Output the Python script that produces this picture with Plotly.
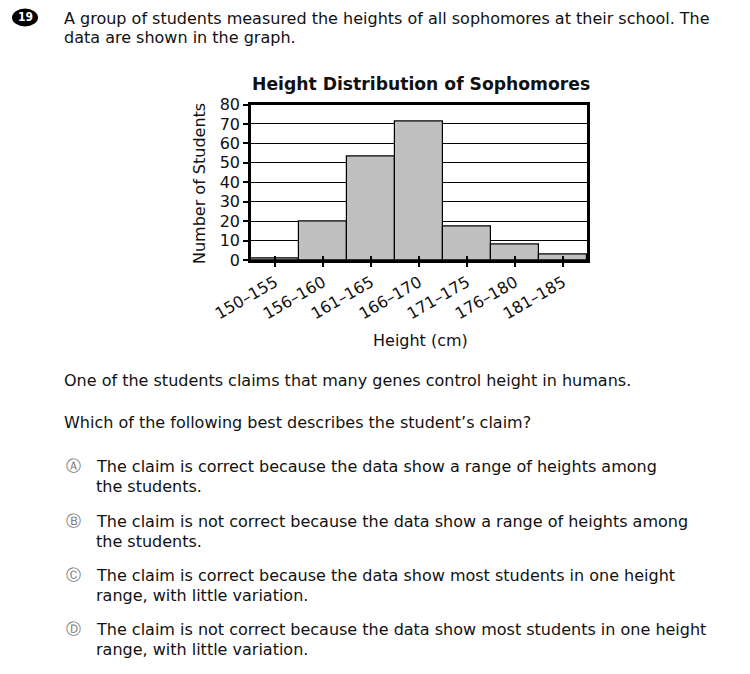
import plotly.graph_objects as go

categories = ["150–155", "156–160", "161–165", "166–170", "171–175", "176–180", "181–185"]
counts = [1, 20, 53, 71, 17, 8, 3]
y_ticks = [0, 10, 20, 30, 40, 50, 60, 70, 80]

W, H = 750, 674
def px(x):
    return x / W
def py(y):
    return 1 - y / H

CH = "DejaVu Sans"
TX = "DejaVu Sans"

fig = go.Figure()
fig.add_trace(go.Bar(
    x=categories, y=counts,
    marker=dict(color="#c0c0c0", line=dict(color="black", width=1.2)),
    showlegend=False, hoverinfo="skip",
))
fig.add_trace(go.Scatter(x=categories, y=counts, xaxis="x2", yaxis="y",
                         mode="markers", marker=dict(opacity=0), showlegend=False,
                         hoverinfo="skip"))

fig.update_layout(
    width=W, height=H,
    margin=dict(l=0, r=0, t=0, b=0, autoexpand=False),
    paper_bgcolor="white", plot_bgcolor="white",
    bargap=0,
    font=dict(family=CH, color="black"),
    xaxis=dict(
        type="category", categoryarray=categories, range=[-0.5, 6.5],
        domain=[px(251), px(587)], automargin=False,
        tickangle=-30, tickfont=dict(size=16, family=CH, color="#111"),
        ticks="outside", ticklen=4, tickwidth=2, tickcolor="black",
        showline=True, linewidth=3, linecolor="black", mirror=True,
        showgrid=False, anchor="y",
    ),
    xaxis2=dict(
        type="category", categoryarray=categories, range=[-0.5, 6.5],
        domain=[px(251), px(587)], overlaying="x", anchor="y", automargin=False,
        ticks="inside", ticklen=4, tickwidth=2, tickcolor="black",
        showticklabels=False, showgrid=False, showline=False,
    ),
    yaxis=dict(
        range=[0, 80], tickvals=y_ticks, automargin=False,
        domain=[py(260), py(104.5)],
        tickfont=dict(size=16, family=CH, color="#111"),
        ticks="outside", ticklen=5, tickwidth=1.5, tickcolor="black",
        showgrid=True, gridcolor="black", gridwidth=1,
        showline=True, linewidth=2.5, linecolor="black", mirror=True,
        zeroline=False,
    ),
)

ann = []
ann.append(dict(text="<b>Height Distribution of Sophomores</b>", x=px(421), y=py(84),
                xanchor="center", yanchor="middle", font=dict(size=17.2, family=CH, color="#111")))
ann.append(dict(text="Height (cm)", x=px(420), y=py(340), xanchor="center", yanchor="middle",
                font=dict(size=16, family=CH, color="#111")))
ann.append(dict(text="Number of Students", x=px(199), y=py(183), xanchor="center", yanchor="middle",
                textangle=-90, font=dict(size=16, family=CH, color="#111")))

def text(t, x, y, size=16):
    ann.append(dict(text=t, x=px(x), y=py(y), xanchor="left", yanchor="middle",
                    font=dict(size=size, family=TX, color="#111")))

text("A group of students measured the heights of all sophomores at their school. The", 62, 18)
text("data are shown in the graph.", 62, 38)
text("One of the students claims that many genes control height in humans.", 62, 380)
text("Which of the following best describes the student’s claim?", 62, 422)

options = [
    ("Ⓐ", "The claim is correct because the data show a range of heights among", "the students.", 466),
    ("Ⓑ", "The claim is not correct because the data show a range of heights among", "the students.", 521),
    ("Ⓒ", "The claim is correct because the data show most students in one height", "range, with little variation.", 575),
    ("Ⓓ", "The claim is not correct because the data show most students in one height", "range, with little variation.", 629),
]
for letter, l1, l2, y in options:
    ann.append(dict(text=letter, x=px(73), y=py(y), xanchor="center", yanchor="middle",
                    font=dict(size=15, family=CH, color="#777")))
    text(l1, 94, y)
    text(l2, 94, y + 20)

ann.append(dict(text="<b>19</b>", x=px(25), y=py(17.5), xanchor="center", yanchor="middle",
                font=dict(size=12, family="DejaVu Sans Condensed", color="white")))

for a in ann:
    a.update(xref="paper", yref="paper", showarrow=False)
fig.update_layout(annotations=ann)

fig.add_shape(type="circle", xref="paper", yref="paper",
              x0=px(12), x1=px(38), y0=py(26.5), y1=py(8.5),
              fillcolor="black", line=dict(color="black", width=0), layer="below")

fig.write_html("out.html")
